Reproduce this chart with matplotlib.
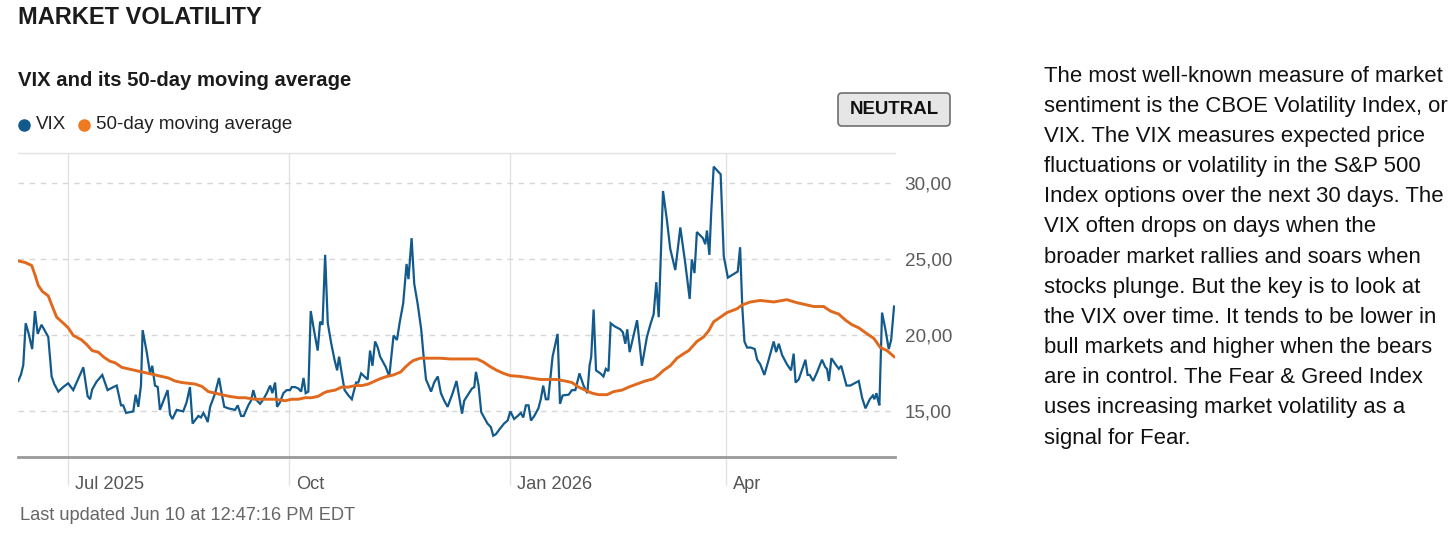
import datetime as dt
import numpy as np
import matplotlib
matplotlib.use("Agg")
import matplotlib.pyplot as plt
import matplotlib.dates as mdates
from matplotlib import font_manager as fm
from matplotlib.lines import Line2D
from matplotlib.patches import FancyBboxPatch
from matplotlib.transforms import ScaledTranslation

# ---------------- data ----------------
BASE_DATE = dt.date(2025, 7, 1)   # day offsets below are counted from this date

vix_days = [
    -20.7, -19.6, -18.6, -17.6, -16.5, -14.9, -13.75, -12.6, -11.0, -9.6, -8.2, -6.8, -5.7, -4.0, -2.0,
    0.1, 2.2, 6.4, 8.2, 9.2, 10.1, 11.9, 14.3, 16.5, 18.9, 20.3, 22.1, 23.0, 24.2, 27.2, 28.2, 29.3,
    30.4, 31.1, 32.8, 34.2, 35.1, 36.25, 37.4, 38.3, 41.5, 42.5, 43.5, 45.3, 48.0, 49.4, 50.8, 51.9,
    54.3, 55.4, 56.4, 57.4, 58.2, 59.2, 61.3, 62.9, 64.0, 65.1, 66.8, 69.6, 70.7, 72.1, 73.2, 75.1,
    76.2, 77.2, 78.2, 80.0, 81.4, 82.8, 84.2, 85.1, 86.25, 87.1, 88.3, 89.7, 91.1, 92.5, 93.2, 94.6,
    96.0, 97.1, 98.1, 99.0, 100.1, 101.1, 102.5, 104.0, 105.0, 106.0, 107.1, 108.2, 109.6, 111.0,
    112.1, 112.9, 114.0, 115.2, 116.8, 118.2, 120.0, 120.9, 122.1, 124.8, 125.8, 126.8, 127.9, 129.0,
    130.0, 132.4, 133.8, 135.6, 137.0, 138.2, 139.6, 141.0, 141.8, 143.1, 144.2, 145.6, 147.1, 148.0,
    149.1, 150.2, 151.2, 152.5, 154.0, 155.3, 156.7, 158.1, 160.2, 161.8, 163.0, 164.1, 165.0, 166.4,
    168.2, 169.2, 169.9, 171.0, 172.1, 173.3, 174.7, 176.1, 177.1, 178.2, 179.6, 181.6, 183.1, 184.2,
    185.8, 187.3, 188.6, 189.6, 190.7, 191.8, 192.8, 194.2, 195.9, 196.9, 197.9, 199.0, 200.0, 201.8,
    203.9, 204.9, 206.0, 208.5, 209.9, 211.3, 213.0, 214.7, 216.3, 217.2, 217.9, 218.9, 219.9, 221.7,
    223.0, 224.0, 225.1, 226.0, 227.6, 230.0, 231.1, 232.1, 232.9, 233.9, 235.1, 237.0, 239.0, 241.1,
    242.5, 243.9, 245.0, 246.0, 247.8, 249.4, 250.8, 252.9, 255.0, 257.1, 258.9, 259.8, 260.9, 261.9,
    264.4, 265.4, 266.1, 267.1, 267.9, 268.9, 271.8, 273.1, 274.8, 278.9, 279.9, 280.8, 281.7, 282.8,
    284.4, 286.0, 287.0, 288.3, 290.0, 291.8, 293.9, 294.9, 296.0, 297.4, 299.4, 301.1, 302.2, 303.0,
    304.3, 307.1, 308.0, 308.9, 310.3, 312.0, 314.0, 315.4, 316.1, 316.9, 317.9, 319.6, 321.0, 322.0,
    324.2, 325.8, 329.3, 330.7, 332.1, 333.9, 335.2, 335.8, 336.7, 337.2, 337.9, 339.0, 340.4, 341.8,
    342.8, 344.0,
]
vix_values = [
    17.0, 17.4, 18.05, 20.8, 20.2, 19.1, 21.6, 20.1, 20.7, 20.3, 19.9, 17.3, 16.8, 16.3, 16.6,
    16.85, 16.4, 17.9, 16.0, 15.8, 16.45, 16.95, 17.4, 16.4, 16.6, 16.7, 15.4, 15.4, 14.9, 15.0, 16.1, 15.3,
    16.7, 20.35, 18.9, 17.5, 18.0, 16.7, 16.6, 15.1, 16.4, 14.8, 14.5, 15.1, 15.0, 15.6, 16.6, 14.2,
    14.7, 14.6, 14.9, 14.6, 14.3, 15.3, 16.2, 17.2, 16.2, 15.3, 15.2, 15.1, 15.4, 14.7, 14.7, 15.4,
    15.7, 16.4, 15.8, 15.5, 15.8, 16.2, 16.7, 16.2, 16.9, 15.3, 15.6, 16.2, 16.4, 16.4, 16.6, 16.6,
    16.5, 16.3, 17.2, 16.2, 16.3, 21.6, 20.3, 19.0, 20.9, 20.7, 25.3, 20.8, 19.5, 18.4,
    17.7, 18.6, 17.5, 16.4, 16.05, 15.8, 16.9, 16.9, 17.5, 17.1, 19.0, 18.0, 19.6, 19.2,
    18.6, 17.9, 17.3, 20.0, 19.7, 20.9, 22.1, 24.7, 23.7, 26.4, 23.4, 22.1, 20.4, 18.8,
    17.1, 16.7, 16.3, 16.9, 17.3, 16.2, 15.7, 15.3, 16.2, 17.0, 15.9, 14.85, 15.7, 16.05,
    16.5, 16.6, 17.6, 16.7, 14.95, 14.6, 14.2, 13.97, 13.4, 13.5, 13.8, 14.2, 14.4, 15.0,
    14.5, 14.7, 14.9, 14.6, 15.4, 15.4, 14.4, 14.7, 15.2, 15.8, 16.7, 15.8, 15.8, 18.6,
    20.1, 15.5, 16.05, 16.1, 16.4, 16.4, 17.5, 16.7, 16.2, 18.0, 18.6, 21.7, 17.7, 17.5,
    17.3, 17.8, 17.65, 20.8, 20.6, 20.4, 20.2, 19.45, 20.4, 18.9, 19.7, 21.0, 18.0, 19.9,
    20.7, 21.4, 23.5, 21.2, 29.5, 27.6, 25.7, 24.3, 27.1, 24.7, 22.4, 25.0, 24.1, 26.8,
    26.4, 26.0, 26.9, 25.3, 28.2, 31.1, 30.6, 25.2, 23.8, 24.2, 25.8, 21.9, 19.6, 19.2,
    19.2, 19.1, 18.4, 18.1, 17.4, 18.4, 19.6, 18.9, 19.45, 18.7, 18.1, 17.7, 18.8, 16.9,
    17.1, 18.4, 17.4, 17.4, 17.0, 17.6, 18.4, 17.9, 17.8, 17.0, 18.5, 18.1, 17.8, 18.0,
    16.7, 16.7, 17.0, 15.9, 15.2, 15.8, 16.05, 15.8, 16.2, 15.8, 15.4, 21.5, 20.4, 19.1,
    19.7, 21.9,
]

ma_days = [
    -20.7, -17.9, -15.1, -13.75, -12.4, -10.7, -8.2, -6.5, -4.7, -1.9, 0.1, 2.2, 5.7, 7.8, 10.1, 12.6,
    15.1, 17.5, 19.6, 22.4, 25.1, 29.3, 33.5, 36.25, 39.0, 41.8, 44.6, 47.4, 50.1, 52.9, 55.7, 58.5,
    61.3, 64.0, 66.8, 71.0, 73.75, 77.9, 82.1, 86.25, 90.4, 93.2, 96.0, 98.75, 101.5, 104.3, 106.4,
    107.8, 111.25, 114.0, 116.8, 119.6, 122.4, 125.1, 127.9, 130.0, 132.8, 135.6, 138.6, 140.4, 142.5,
    143.9, 146.7, 150.8, 155.0, 159.2, 163.3, 167.5, 170.3, 173.0, 175.8, 178.6, 181.4, 184.2, 188.3,
    192.5, 196.7, 200.8, 203.6, 207.0, 209.9, 212.6, 215.4, 218.2, 221.0, 224.5, 227.2, 230.7, 233.5,
    236.9, 240.4, 243.9, 246.0, 248.0, 250.8, 253.6, 256.4, 258.5, 261.9, 264.7, 266.8, 268.9, 271.7,
    274.4, 278.6, 280.7, 284.2, 288.3, 293.9, 299.4, 303.6, 307.8, 310.6, 314.7, 317.5, 321.0, 323.8,
    326.5, 329.3, 332.8, 335.6, 338.3, 341.1, 344.0,
]
ma_values = [
    24.9, 24.8, 24.6, 24.0, 23.3, 22.9, 22.6, 21.9, 21.2, 20.8, 20.5, 20.0, 19.7, 19.4, 19.0, 18.9,
    18.55, 18.3, 18.2, 17.9, 17.8, 17.65, 17.5, 17.4, 17.3, 17.2, 17.0, 16.9, 16.85, 16.8, 16.65, 16.3,
    16.2, 16.1, 16.0, 15.9, 15.9, 15.8, 15.8, 15.8, 15.7, 15.8, 15.8, 15.9, 15.9, 16.0, 16.2,
    16.3, 16.4, 16.6, 16.6, 16.7, 16.7, 16.8, 17.0, 17.15, 17.3, 17.4, 17.6, 17.9, 18.2,
    18.35, 18.5, 18.5, 18.5, 18.45, 18.45, 18.45, 18.45, 18.25, 17.95, 17.7, 17.5, 17.35, 17.3,
    17.2, 17.1, 17.1, 17.1, 17.0, 16.9, 16.6, 16.4, 16.2, 16.1, 16.1, 16.3, 16.4, 16.6,
    16.8, 17.0, 17.15, 17.4, 17.7, 18.0, 18.5, 18.8, 19.0, 19.6, 19.9, 20.3, 20.9, 21.2,
    21.5, 21.75, 22.0, 22.2, 22.3, 22.2, 22.35, 22.15, 22.0, 21.9, 21.9, 21.6, 21.4, 21.0,
    20.7, 20.5, 20.1, 19.8, 19.2, 19.0, 18.6,
]

xtick_dates = ["2025-07-01", "2025-10-01", "2026-01-01", "2026-04-01"]
xtick_labels = ["Jul 2025", "Oct", "Jan 2026", "Apr"]
ytick_values = [15, 20, 25, 30]
ytick_labels = ["15,00", "20,00", "25,00", "30,00"]
series_names = ["VIX", "50-day moving average"]
sentiment_label = "NEUTRAL"

title_text = "MARKET VOLATILITY"
subtitle_text = "VIX and its 50-day moving average"
updated_text = "Last updated Jun 10 at 12:47:16 PM EDT"
paragraph_lines = [
    "The most well-known measure of market",
    "sentiment is the CBOE Volatility Index, or",
    "VIX. The VIX measures expected price",
    "fluctuations or volatility in the S&P 500",
    "Index options over the next 30 days. The",
    "VIX often drops on days when the",
    "broader market rallies and soars when",
    "stocks plunge. But the key is to look at",
    "the VIX over time. It tends to be lower in",
    "bull markets and higher when the bears",
    "are in control. The Fear & Greed Index",
    "uses increasing market volatility as a",
    "signal for Fear.",
]

# ---------------- styling ----------------
VIX_COLOR = "#135a8c"
MA_COLOR = "#e0691d"
TEXT_DARK = "#1b1b1b"
W, H = 1456, 539

names = {f.name for f in fm.fontManager.ttflist}
if "Liberation Sans Narrow" in names:
    COND_FONT, COND_SCALE = ["Liberation Sans Narrow", "DejaVu Sans"], 1.0
else:
    COND_FONT, COND_SCALE = ["Liberation Sans", "DejaVu Sans"], 0.82
plt.rcParams["font.family"] = ["Liberation Sans", "DejaVu Sans"]

fig = plt.figure(figsize=(W / 100, H / 100), dpi=100)
fig.patch.set_facecolor("white")

left_px, right_px, top_px, bottom_px = 18, 895, 153, 457
ax = fig.add_axes([left_px / W, 1 - bottom_px / H, (right_px - left_px) / W, (bottom_px - top_px) / H])

base_num = mdates.date2num(BASE_DATE)
vix_x = base_num + np.asarray(vix_days)
ma_x = base_num + np.asarray(ma_days)

ax.plot(vix_x, vix_values, color=VIX_COLOR, lw=1.6, solid_joinstyle="miter", zorder=3)
ax.plot(ma_x, ma_values, color=MA_COLOR, lw=2.1, zorder=4)

ax.set_xlim(base_num - 20.8, base_num + 344.4)
ax.set_ylim(12, 32)

# grid
ax.set_yticks(ytick_values)
ax.set_yticklabels(ytick_labels)
ax.yaxis.tick_right()
ax.yaxis.grid(True, linestyle=(0, (4, 4)), color="#d6d6d6", lw=1)
ax.tick_params(axis="y", length=0, pad=7, labelsize=13.6, labelcolor="#5c5c5c")

xt = [mdates.date2num(dt.date.fromisoformat(d)) for d in xtick_dates]
ax.set_xticks(xt)
ax.set_xticklabels(xtick_labels)
ax.xaxis.grid(True, color="#e2e2e2", lw=1)
ax.tick_params(axis="x", length=20, width=1, color="#e2e2e2", pad=-6.3,
               labelsize=16 * COND_SCALE, labelcolor="#555555")
for t in ax.xaxis.get_major_ticks():
    t.label1.set_fontfamily(COND_FONT)
    t.label1.set_horizontalalignment("left")
    t.label1.set_transform(t.label1.get_transform() + ScaledTranslation(7 / 100, 0, fig.dpi_scale_trans))
ax.set_axisbelow(True)

for s in ("left", "right"):
    ax.spines[s].set_visible(False)
ax.spines["top"].set_color("#e2e2e2")
ax.spines["top"].set_linewidth(1)
ax.spines["bottom"].set_color("#9a9a9a")
ax.spines["bottom"].set_linewidth(2)

def fy(px):
    return 1 - px / H

def fx(px):
    return px / W

# titles
fig.text(fx(18), fy(17), title_text, fontsize=17, fontweight="bold", color=TEXT_DARK, va="center")
fig.text(fx(18), fy(80), subtitle_text, fontsize=14.6, fontweight="bold", color=TEXT_DARK, va="center")

# legend (dots + labels)
leg_items = [(24, 36, VIX_COLOR, series_names[0]), (84, 96, "#ef7a1f", series_names[1])]
for dot_x, txt_x, col, name in leg_items:
    fig.add_artist(Line2D([fx(dot_x)], [fy(125)], marker="o", ms=8, color=col, ls="",
                          transform=fig.transFigure))
    fig.text(fx(txt_x), fy(125), name, fontsize=13.5, color="#222222", va="center")

# sentiment badge
badge = FancyBboxPatch((8.38, (H - 126) / 100), 1.12, 0.33,
                       boxstyle="round,pad=0,rounding_size=0.04",
                       transform=fig.dpi_scale_trans, facecolor="#e6e6e6",
                       edgecolor="#6e6e6e", lw=1.2)
fig.add_artist(badge)
fig.text(fx(894), fy(110), sentiment_label, fontsize=13.4, fontweight="bold", color="#111111",
         ha="center", va="center")

# footer
fig.text(fx(20), fy(516), updated_text, fontsize=16 * COND_SCALE, color="#666666", va="center",
         fontfamily=COND_FONT)

# paragraph
for i, line in enumerate(paragraph_lines):
    fig.text(fx(1044), fy(76 + 30.17 * i), line, fontsize=15.9, color="#111111", va="center")

fig.savefig("out.png", dpi=100)
